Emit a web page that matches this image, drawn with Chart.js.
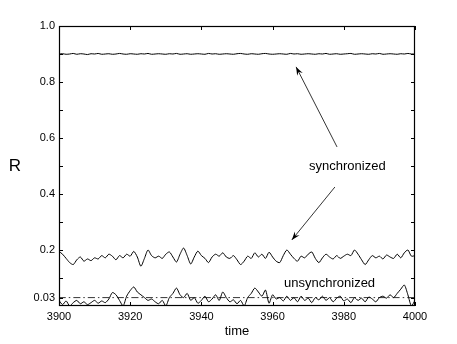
<!DOCTYPE html>
<html>
<head>
<meta charset="utf-8">
<script src="https://cdn.jsdelivr.net/npm/chart.js@4.4.1/dist/chart.umd.min.js"></script>
<style>
  html, body { margin: 0; padding: 0; background: #fff; }
  #wrap { width: 457px; height: 344px; }
</style>
</head>
<body>
<div id="wrap"><canvas id="rChart" width="457" height="344"></canvas></div>
<script>
// time axis, one sample per time unit
const times = [];
for (let t = 3900; t <= 4000; t++) times.push(t);

const syncHigh = [
  0.900, 0.901, 0.899, 0.900, 0.902, 0.899, 0.901, 0.900, 0.898, 0.901,
  0.900, 0.902, 0.899, 0.900, 0.901, 0.899, 0.900, 0.902, 0.900, 0.899,
  0.901, 0.900, 0.899, 0.901, 0.900, 0.902, 0.899, 0.900, 0.901, 0.900,
  0.899, 0.901, 0.900, 0.902, 0.899, 0.900, 0.901, 0.899, 0.900, 0.901,
  0.900, 0.899, 0.902, 0.900, 0.901, 0.899, 0.900, 0.901, 0.900, 0.899,
  0.901, 0.902, 0.900, 0.899, 0.901, 0.900, 0.899, 0.901, 0.902, 0.900,
  0.899, 0.900, 0.901, 0.900, 0.899, 0.902, 0.900, 0.901, 0.899, 0.900,
  0.901, 0.900, 0.899, 0.901, 0.900, 0.902, 0.899, 0.900, 0.901, 0.899,
  0.900, 0.901, 0.902, 0.899, 0.900, 0.901, 0.900, 0.899, 0.901, 0.900,
  0.902, 0.899, 0.900, 0.901, 0.900, 0.899, 0.901, 0.900, 0.902, 0.900,
  0.900
];

const syncLow = [
  0.195, 0.185, 0.170, 0.155, 0.148, 0.165, 0.175, 0.160, 0.168, 0.162,
  0.172, 0.168, 0.180, 0.172, 0.185, 0.178, 0.165, 0.180, 0.172, 0.185,
  0.178, 0.195, 0.175, 0.142, 0.170, 0.200, 0.180, 0.172, 0.178, 0.170,
  0.185, 0.193, 0.175, 0.157, 0.185, 0.207, 0.180, 0.150, 0.175, 0.196,
  0.180, 0.170, 0.155, 0.175, 0.185, 0.178, 0.190, 0.175, 0.170, 0.180,
  0.165, 0.148, 0.160, 0.178, 0.170, 0.190, 0.175, 0.185, 0.170, 0.192,
  0.175, 0.160, 0.155, 0.180, 0.200, 0.185, 0.170, 0.160, 0.178, 0.172,
  0.185, 0.193, 0.170, 0.155, 0.172, 0.185, 0.175, 0.168, 0.180, 0.170,
  0.178, 0.185, 0.180, 0.200, 0.185, 0.165, 0.148, 0.165, 0.180, 0.172,
  0.178, 0.168, 0.182, 0.175, 0.170, 0.185, 0.172, 0.190, 0.200, 0.178,
  0.180
];

const unsync = [
  0.020, 0.005, 0.018, 0.000, 0.012, 0.020, 0.008, 0.015, 0.005, 0.012,
  0.020, 0.010, 0.018, 0.012, 0.025, 0.048, 0.040, 0.020, 0.000, 0.035,
  0.055, 0.068, 0.050, 0.040, 0.030, 0.020, 0.025, 0.015, 0.008, 0.020,
  0.000, 0.030, 0.045, 0.064, 0.040, 0.030, 0.045, 0.020, 0.030, 0.010,
  0.020, 0.035, 0.015, 0.025, 0.040, 0.020, 0.050, 0.030, 0.015, 0.022,
  0.008, 0.020, 0.000, 0.030, 0.045, 0.064, 0.050, 0.035, 0.057, 0.010,
  0.040, 0.025, 0.030, 0.018, 0.035, 0.020, 0.030, 0.015, 0.035, 0.020,
  0.028, 0.012, 0.030, 0.022, 0.035, 0.020, 0.030, 0.015, 0.028, 0.035,
  0.018, 0.025, 0.012, 0.030, 0.020, 0.028, 0.015, 0.032, 0.025, 0.015,
  0.030, 0.035, 0.028, 0.040, 0.030, 0.045, 0.060, 0.075, 0.040, 0.000,
  0.020
];

const refLevel = 0.03;

const xTicks = [3900, 3920, 3940, 3960, 3980, 4000];
const yTicks = [0.03, 0.1, 0.2, 0.3, 0.4, 0.5, 0.6, 0.7, 0.8, 0.9, 1.0];
const yLabels = ["0.03", "", "0.2", "", "0.4", "", "0.6", "", "0.8", "", "1.0"];

// annotation text and arrows, in data coordinates
const syncText = { x: 3981, y: 0.50, text: "synchronized" };
const unsyncText = { x: 3976, y: 0.082, text: "unsynchronized" };
const arrows = [
  { fromX: 3978.1, fromY: 0.568, toX: 3966.6, toY: 0.854 },
  { fromX: 3977.5, fromY: 0.425, toX: 3965.4, toY: 0.236 }
];

const FONT = "'Liberation Sans', Arial, Helvetica, sans-serif";

function toXY(values) {
  return values.map(function (v, i) { return { x: times[i], y: v }; });
}

const framePlugin = {
  id: "frame",
  afterDatasetsDraw: function (chart) {
    const ctx = chart.ctx;
    const a = chart.chartArea;
    const xs = chart.scales.x;
    const ys = chart.scales.y;
    ctx.save();
    ctx.strokeStyle = "#000";
    ctx.lineWidth = 1.2;
    ctx.strokeRect(a.left + 0.5, a.top + 0.5, a.right - a.left - 1, a.bottom - a.top - 1);

    // inward ticks on all four sides
    ctx.lineWidth = 1;
    ctx.beginPath();
    xTicks.forEach(function (t) {
      const px = Math.round(xs.getPixelForValue(t)) + 0.5;
      ctx.moveTo(px, a.bottom);
      ctx.lineTo(px, a.bottom - 4);
      ctx.moveTo(px, a.top);
      ctx.lineTo(px, a.top + 4);
    });
    yTicks.forEach(function (t) {
      const py = Math.round(ys.getPixelForValue(t)) + 0.5;
      ctx.moveTo(a.left, py);
      ctx.lineTo(a.left + 4, py);
      ctx.moveTo(a.right, py);
      ctx.lineTo(a.right - 4, py);
    });
    ctx.stroke();

    // arrows
    arrows.forEach(function (ar) {
      const x1 = xs.getPixelForValue(ar.fromX), y1 = ys.getPixelForValue(ar.fromY);
      const x2 = xs.getPixelForValue(ar.toX), y2 = ys.getPixelForValue(ar.toY);
      ctx.beginPath();
      ctx.lineWidth = 0.8;
      ctx.moveTo(x1, y1);
      ctx.lineTo(x2, y2);
      ctx.stroke();
      const ang = Math.atan2(y2 - y1, x2 - x1);
      const len = 9, spread = 0.35;
      ctx.beginPath();
      ctx.moveTo(x2, y2);
      ctx.lineTo(x2 - len * Math.cos(ang - spread), y2 - len * Math.sin(ang - spread));
      ctx.lineTo(x2 - len * 0.6 * Math.cos(ang), y2 - len * 0.6 * Math.sin(ang));
      ctx.lineTo(x2 - len * Math.cos(ang + spread), y2 - len * Math.sin(ang + spread));
      ctx.closePath();
      ctx.fillStyle = "#000";
      ctx.fill();
    });

    // text annotations
    ctx.fillStyle = "#000";
    ctx.font = "13px " + FONT;
    ctx.textAlign = "center";
    ctx.textBaseline = "middle";
    [syncText, unsyncText].forEach(function (t) {
      ctx.fillText(t.text, xs.getPixelForValue(t.x), ys.getPixelForValue(t.y));
    });

    // upright y label
    ctx.font = "17px " + FONT;
    ctx.fillText("R", 15, 166);
    ctx.restore();
  }
};

const ctx = document.getElementById("rChart").getContext("2d");

new Chart(ctx, {
  type: "line",
  data: {
    datasets: [
      { data: toXY(syncHigh), borderColor: "#000", borderWidth: 1 },
      { data: toXY(syncLow), borderColor: "#000", borderWidth: 1 },
      { data: toXY(unsync), borderColor: "#000", borderWidth: 1 },
      {
        data: [{ x: times[0], y: refLevel }, { x: times[times.length - 1], y: refLevel }],
        borderColor: "#000",
        borderWidth: 0.8,
        borderDash: [7, 3, 1.5, 3]
      }
    ]
  },
  options: {
    responsive: false,
    animation: false,
    events: [],
    elements: { point: { radius: 0 }, line: { tension: 0.25 } },
    layout: { padding: { left: 0, right: 42, top: 26, bottom: 0 } },
    plugins: { legend: { display: false }, tooltip: { enabled: false } },
    scales: {
      x: {
        type: "linear",
        min: 3900,
        max: 4000,
        afterFit: function (scale) { scale.height = 38; },
        afterBuildTicks: function (scale) {
          scale.ticks = xTicks.map(function (v) { return { value: v }; });
        },
        ticks: {
          color: "#000",
          font: { family: FONT, size: 11 },
          padding: 4,
          maxRotation: 0,
          callback: function (v) { return String(v); }
        },
        grid: { display: false, drawTicks: false },
        border: { display: false },
        title: {
          display: true,
          text: "time",
          color: "#000",
          font: { family: FONT, size: 13 },
          padding: { top: 0, bottom: 5 }
        }
      },
      y: {
        min: 0,
        max: 1,
        afterFit: function (scale) { scale.width = 59; },
        afterBuildTicks: function (scale) {
          scale.ticks = yTicks.map(function (v) { return { value: v }; });
        },
        ticks: {
          color: "#000",
          font: { family: FONT, size: 11 },
          padding: 4,
          callback: function (v) {
            const i = yTicks.indexOf(v);
            return i >= 0 ? yLabels[i] : "";
          }
        },
        grid: { display: false, drawTicks: false },
        border: { display: false }
      }
    }
  },
  plugins: [framePlugin]
});
</script>
</body>
</html>
